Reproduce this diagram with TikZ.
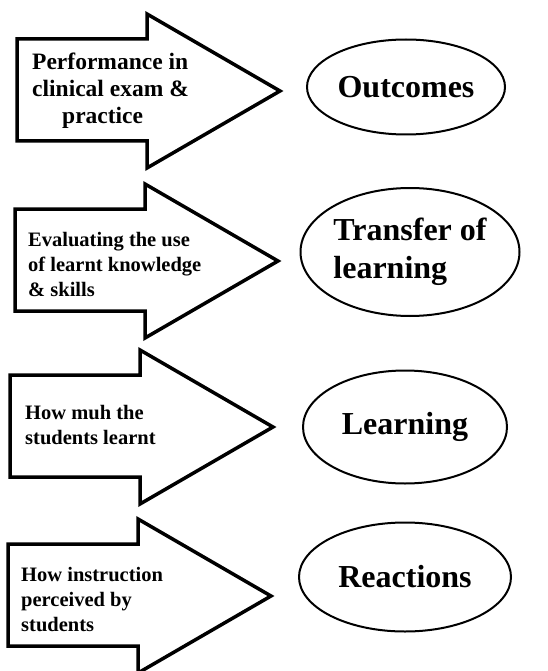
\documentclass[tikz,border=0pt]{standalone}
\usepackage{fontspec}
\setmainfont{Liberation Serif}
\usetikzlibrary{shapes.geometric}
\begin{document}
\begin{tikzpicture}[x=1pt,y=-1pt,
        levelarrow/.style={draw,line width=3.5pt,line join=miter},
        level/.style={draw,ellipse,line width=2pt,inner sep=0pt,align=left,
            font=\fontsize{32}{38}\selectfont\bfseries},
        note/.style={anchor=west,inner sep=0pt,align=left,
            font=\fontsize{20.5}{25}\selectfont\bfseries}]
        \useasboundingbox (0,0) rectangle (548,671);
        % arrows
        \foreach \x/\y in {17/91,15/261,10/427,8/596}
            \draw[levelarrow] (\x,\y-52) -- (\x+130,\y-52) -- (\x+130,\y-77) -- (\x+263,\y)
                -- (\x+130,\y+77) -- (\x+130,\y+50) -- (\x,\y+50) -- cycle;
        \node[note,font=\fontsize{23.5}{27}\selectfont\bfseries] (perf) at (32,91)
            {Performance in\\clinical exam \&\\\hspace*{30pt}practice};
        \node[note] (eval) at (28,264) {Evaluating the use\\of learnt knowledge\\\& skills};
        \node[note] (howmuch) at (25,425) {How muh the\\students learnt};
        \node[note] (howinstr) at (21,600) {How instruction\\perceived by\\students};

        % levels
        \node[level,minimum width=198pt,minimum height=95pt] (outcomes) at (406,87) {Outcomes};
        \node[level,minimum width=219pt,minimum height=128pt] (transfer) at (410,252) {Transfer of\\learning};
        \node[level,minimum width=204pt,minimum height=113pt] (learning) at (405,427) {Learning};
        \node[level,minimum width=212pt,minimum height=109pt] (reactions) at (405,577) {Reactions};
    \end{tikzpicture}
\end{document}
